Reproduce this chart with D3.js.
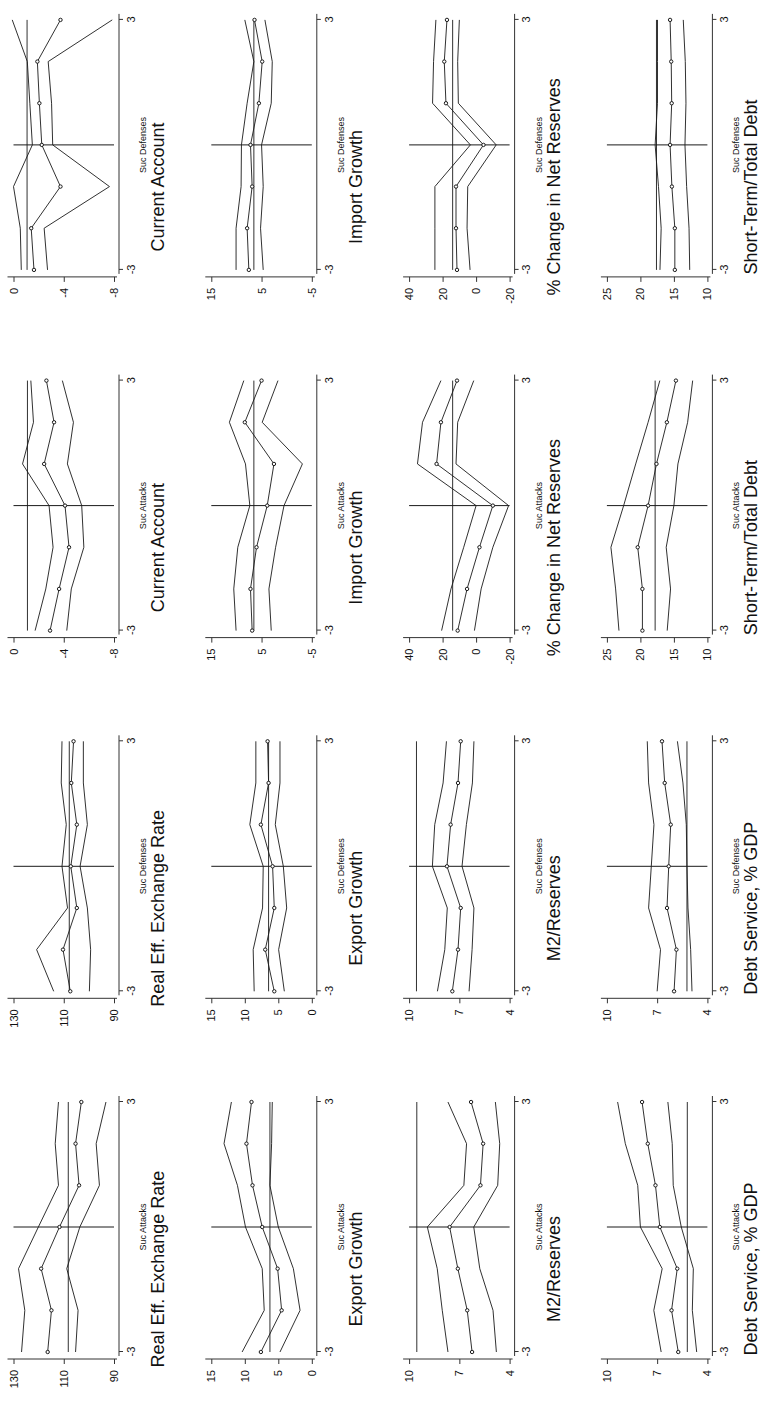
<!DOCTYPE html>
<html>
<head>
<meta charset="utf-8">
<script src="https://cdn.jsdelivr.net/npm/d3@7"></script>
<style>
body{margin:0;background:#fff;}
svg{display:block;}
text{font-family:'Liberation Sans',Arial,Helvetica,sans-serif;fill:#111;}
</style>
</head>
<body>
<div id="canvas"></div>
<script>
// years around the event
var periods = [-3,-2,-1,0,1,2,3];

// each panel: [upper band, mean, lower band]
var reerAtt   = [[126.8,125.5,128,120.1,112.1,113.4,112.1],[116.4,114.9,119,111.7,103.9,105.3,103],[105.3,104.3,108.8,103.6,95.8,97.1,93.2]];
var reerDef   = [[114,120.8,108.5,110.7,109,111,110.7],[107.4,110.3,104.8,107.2,104.8,107,106.1],[99.8,99.3,100.6,103.5,100.6,102.2,102.2]];
var caAtt     = [[-1.72,-2.57,-3.15,-2.83,-0.72,-1.59,-1.38],[-2.91,-3.63,-4.42,-4.1,-2.44,-3.23,-2.62],[-4.24,-4.6,-5.6,-5.43,-4.29,-4.77,-3.89]];
var caDef     = [[-0.62,-0.54,0,-1.5,-1.3,-1.1,0.1],[-1.63,-1.41,-3.74,-2.25,-2.06,-1.9,-3.74],[-2.71,-2.44,-7.64,-3.12,-3.03,-2.76,-7.86]];
var exportAtt = [[10.4,7.1,7.4,9.9,11.1,13.1,12],[7.6,4.5,5.1,7.4,8.85,9.75,9],[4.75,1.75,2.75,5,6.25,6,5.9]];
var exportDef = [[8.6,8.75,7.35,7.25,9.25,8.35,8.35],[5.6,6.95,5.6,5.85,7.6,6.45,6.6],[4.1,4.95,3.75,4.25,5.45,4.75,4.75]];
var importAtt = [[10.07,10.53,9.73,7.33,8.2,11.4,8.53],[6.87,7.2,6,3.87,2.53,8.33,5],[3.07,3.53,2.2,0.53,-3.13,4.87,1.73]];
var importDef = [[10.07,10.07,9.07,9,7.87,6.53,8.33],[7.53,7.87,6.87,7.2,5.53,4.87,6.4],[4.67,5.2,4.67,5,3.07,2.87,4.33]];
var m2Att     = [[7.68,8.02,8.32,8.91,6.73,6.57,7.68],[6.24,6.53,7.09,7.58,5.74,5.58,6.3],[4.79,4.99,5.78,6.14,4.71,4.59,4.85]];
var m2Def     = [[8.31,7.87,7.72,8.61,8.47,7.97,7.77],[7.42,7.08,6.92,7.74,7.52,7.08,6.92],[6.42,6.24,6.13,6.84,6.58,6.22,6.13]];
var resAtt    = [[20.6,15,7.4,0,35,32,21],[11,5.4,-2,-10,23.6,21,11.4],[1,-3,-10,-19.4,12,11,1.4]];
var resDef    = [[24.6,24.6,24.6,3.4,26,25.4,24],[11.4,12,12,-4.4,18,19,17.4],[3.6,5.4,5,-12,10.6,11,10]];
var debtAtt   = [[6.76,7.2,6.7,8,8.16,8.9,9.36],[5.74,6.14,5.8,6.84,7.1,7.56,7.9],[4.64,4.9,4.84,5.56,6.04,6.1,6.36]];
var debtDef   = [[7,6.8,7.51,7.35,7.19,7.51,7.59],[5.99,5.85,6.41,6.31,6.19,6.55,6.71],[4.92,5,5.16,5.22,5.26,5.46,5.79]];
var stAtt     = [[23.2,23.7,24.4,22.5,20.7,18.85,17.1],[19.7,19.7,20.4,18.85,17.6,16.05,14.7],[16,15.5,16.15,15,14.4,12.95,12.2]];
var stDef     = [[17.08,16.9,17.3,17.8,17.45,17.45,17.45],[14.86,14.86,15.3,15.57,15.33,15.4,15.57],[12.64,12.74,13.1,13.35,13.2,13.3,13.6]];

// horizontal reference levels, same order as the panels below
var refValues = [108.2,107.8,-1.11,-1.08, 6.25,6.45,6.53,6.53, 9.54,9.56,14,14, 5.2,5.22,17.8,17.6];

var leftTitles  = ['Real Eff. Exchange Rate','Export Growth','M2/Reserves','Debt Service, % GDP'];
var rightTitles = ['Current Account','Import Growth','% Change in Net Reserves','Short-Term/Total Debt'];
var leftTicks   = [[90,110,130],[0,5,10,15],[4,7,10],[4,7,10]];
var rightTicks  = [[-8,-4,0],[-5,5,15],[-20,0,20,40],[10,15,20,25]];
var subLabels   = ['Suc Attacks','Suc Defenses'];

var seriesGrid = [
    [reerAtt, reerDef, caAtt, caDef],
    [exportAtt, exportDef, importAtt, importDef],
    [m2Att, m2Def, resAtt, resDef],
    [debtAtt, debtDef, stAtt, stDef]
];

var W = 762, H = 1401;
var svg = d3.select('#canvas').append('svg')
    .attr('width',W)
    .attr('height',H);

// page is printed sideways: draw landscape, then turn it
var page = svg.append('g')
    .attr('transform','translate(0,' + H + ') rotate(-90)');

var colX = 49, colStep = 360.7, plotW = 250;
var rowY = 13.5, rowStep = 197.8, plotH = 100.5;
var ink = '#1a1a1a';

for (var r = 0; r < 4; r++) {
    for (var k = 0; k < 4; k++) {
        drawPanel(r, k);
    }
}

function drawPanel(r, k) {
    var x0 = colX + colStep*k,
        yTop = rowY + rowStep*r,
        yBot = yTop + plotH;
    var data = seriesGrid[r][k];
    var ticks = k < 2 ? leftTicks[r] : rightTicks[r];
    var title = k < 2 ? leftTitles[r] : rightTitles[r];
    var ref = refValues[r*4 + k];

    var scaleX = d3.scaleLinear().domain([-3,3]).range([x0, x0 + plotW]);
    var scaleY = d3.scaleLinear().domain(d3.extent(ticks)).range([yBot, yTop]);

    var g = page.append('g').attr('class','panel');

    // y axis
    var axisY = d3.axisLeft(scaleY)
        .tickValues(ticks)
        .tickSize(5)
        .tickPadding(6)
        .tickFormat(function(d){ return String(d); });
    var ay = g.append('g')
        .attr('transform','translate(' + (x0 - 7) + ',0)')
        .call(axisY);
    ay.select('.domain').remove();
    ay.append('line')
        .attr('x1',0).attr('x2',0)
        .attr('y1',yTop - 6).attr('y2',yBot + 3)
        .attr('stroke','#333');

    // x axis
    var axisX = d3.axisBottom(scaleX)
        .tickValues([-3,3])
        .tickSize(4)
        .tickPadding(4)
        .tickFormat(function(d){ return String(d); });
    var ax = g.append('g')
        .attr('transform','translate(0,' + (yBot + 5) + ')')
        .call(axisX);
    ax.select('.domain').remove();
    ax.append('line')
        .attr('x1',x0 - 4).attr('x2',x0 + plotW + 6)
        .attr('y1',0).attr('y2',0)
        .attr('stroke','#333');

    g.selectAll('.tick line').attr('stroke','#333');
    g.selectAll('.tick text')
        .style('font-size','11px')
        .style('font-family',"'Liberation Sans',Arial,sans-serif")
        .attr('fill','#111');

    // event line and sample reference
    g.append('line')
        .attr('x1',scaleX(0)).attr('x2',scaleX(0))
        .attr('y1',scaleY(d3.max(ticks))).attr('y2',scaleY(d3.min(ticks)))
        .attr('stroke',ink).attr('stroke-width',1);
    g.append('line')
        .attr('x1',scaleX(-3)).attr('x2',scaleX(3))
        .attr('y1',scaleY(ref)).attr('y2',scaleY(ref))
        .attr('stroke',ink).attr('stroke-width',0.9);

    var line = d3.line()
        .x(function(d,i){ return scaleX(periods[i]); })
        .y(function(d){ return scaleY(d); });

    g.selectAll('.band')
        .data(data)
        .enter()
        .append('path')
        .attr('class','band')
        .attr('d',line)
        .attr('fill','none')
        .attr('stroke',ink)
        .attr('stroke-width',0.9);

    g.selectAll('.dot')
        .data(data[1])
        .enter()
        .append('circle')
        .attr('class','dot')
        .attr('cx',function(d,i){ return scaleX(periods[i]); })
        .attr('cy',function(d){ return scaleY(d); })
        .attr('r',1.7)
        .attr('fill','#fff')
        .attr('stroke',ink)
        .attr('stroke-width',1);

    g.append('text')
        .attr('x',x0 + plotW/2)
        .attr('y',yBot + 32)
        .attr('text-anchor','middle')
        .style('font-size','9px')
        .text(subLabels[k % 2]);

    g.append('text')
        .attr('x',x0 + plotW/2 - 42)
        .attr('y',yBot + 50)
        .attr('text-anchor','middle')
        .style('font-size','18px')
        .text(title);
}
</script>
</body>
</html>
